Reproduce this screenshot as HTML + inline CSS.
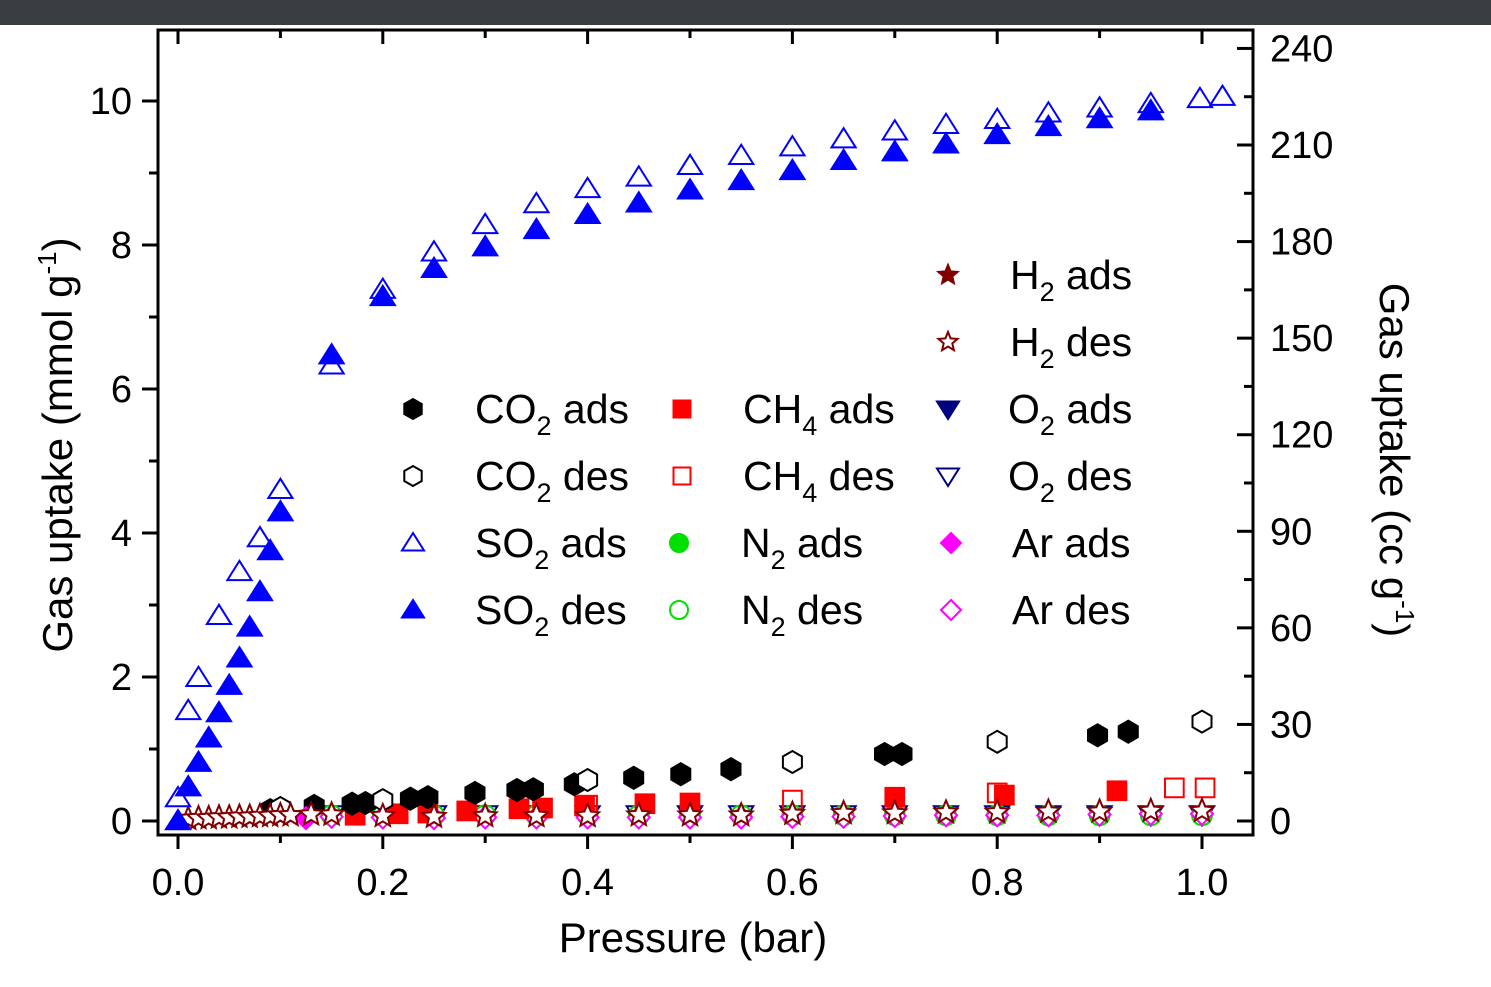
<!DOCTYPE html>
<html><head><meta charset="utf-8"><style>
body{margin:0;background:#fff;width:1491px;height:987px;overflow:hidden;font-family:"Liberation Sans",sans-serif}
</style></head><body>
<div style="position:absolute;left:0;top:0;width:1491px;height:25px;background:#3b3e41"></div>
<svg id="c" width="1491" height="987" style="position:absolute;left:0;top:0"></svg>
<script>
const so2AdsX=[0,0.01,0.02,0.04,0.06,0.08,0.1,0.15,0.2,0.25,0.3,0.35,0.4,0.45,0.5,0.55,0.6,0.65,0.7,0.75,0.8,0.85,0.9,0.95,0.998,1.02];
const so2AdsY=[0.32,1.53,1.99,2.85,3.46,3.93,4.6,6.33,7.38,7.9,8.28,8.57,8.78,8.94,9.1,9.24,9.36,9.47,9.58,9.67,9.74,9.83,9.9,9.96,10.03,10.06];
const so2DesX=[0,0.01,0.02,0.03,0.04,0.05,0.06,0.07,0.08,0.09,0.1,0.15,0.2,0.25,0.3,0.35,0.4,0.45,0.5,0.55,0.6,0.65,0.7,0.75,0.8,0.85,0.9,0.95];
const so2DesY=[0,0.47,0.81,1.15,1.5,1.88,2.26,2.69,3.18,3.75,4.29,6.47,7.28,7.67,7.97,8.21,8.42,8.58,8.76,8.89,9.03,9.17,9.29,9.4,9.53,9.64,9.75,9.86];
const co2AdsX=[0.09,0.133,0.17,0.183,0.227,0.244,0.29,0.331,0.347,0.387,0.445,0.491,0.54,0.69,0.707,0.898,0.928];
const co2AdsY=[0.15,0.21,0.24,0.25,0.31,0.33,0.39,0.43,0.44,0.51,0.6,0.65,0.72,0.93,0.93,1.19,1.24];
const co2DesX=[0.1,0.2,0.4,0.6,0.8,1.0];
const co2DesY=[0.18,0.29,0.57,0.82,1.1,1.38];
const ch4AdsX=[0.173,0.215,0.244,0.282,0.333,0.356,0.397,0.456,0.5,0.7,0.807,0.917];
const ch4AdsY=[0.08,0.1,0.11,0.14,0.17,0.18,0.21,0.24,0.25,0.33,0.36,0.42];
const ch4DesX=[0.4,0.6,0.8,0.973,1.003];
const ch4DesY=[0.22,0.29,0.39,0.46,0.46];
const lowX=[0.15,0.2,0.25,0.3,0.35,0.4,0.45,0.5,0.55,0.6,0.65,0.7,0.75,0.8,0.85,0.9,0.95,1.0];
const arDesY=[0.06,0.05,0.04,0.05,0.05,0.05,0.05,0.05,0.05,0.06,0.06,0.07,0.08,0.08,0.08,0.09,0.1,0.1];
const h2DesX=[0.01,0.02,0.03,0.04,0.05,0.06,0.07,0.08,0.09,0.1,0.11,0.13,0.15,0.2,0.25,0.3,0.35,0.4,0.45,0.5,0.55,0.6,0.65,0.7,0.75,0.8,0.85,0.9,0.95,1.0];
const h2DesY=[0.03,0.04,0.04,0.05,0.05,0.06,0.06,0.07,0.07,0.08,0.08,0.09,0.09,0.07,0.06,0.07,0.07,0.07,0.08,0.08,0.08,0.1,0.11,0.11,0.12,0.12,0.13,0.13,0.14,0.14];
const arAdsX=[0.125], arAdsY=[0.04];
const xTicks=[0.0,0.2,0.4,0.6,0.8,1.0];
const yTicks=[0,2,4,6,8,10];
const y2Ticks=[0,30,60,90,120,150,180,210,240];

const NS="http://www.w3.org/2000/svg",svg=document.getElementById('c');
const X=v=>178+v*1024, Y=v=>821-v*72, Y2=v=>821-v*3.219;
function el(t,a,p){const e=document.createElementNS(NS,t);for(const k in a)e.setAttribute(k,a[k]);(p||svg).appendChild(e);return e;}
function txt(x,y,s,size,anchor,extra){const t=el('text',Object.assign({x:x,y:y,'font-size':size,'text-anchor':anchor||'middle','font-family':'Liberation Sans, sans-serif'},extra||{}));t.innerHTML=s;return t;}
const fr=el('rect',{x:158,y:30,width:1095,height:805,fill:'none',stroke:'#000','stroke-width':3});

for(let v=0;v<=1.0001;v+=0.1){const maj=Math.abs(v*5-Math.round(v*5))<1e-6;const x=X(v);
 el('line',{x1:x,x2:x,y1:835,y2:835+(maj?14:8),stroke:'#000','stroke-width':3});
 el('line',{x1:x,x2:x,y1:30,y2:30+(maj?14:8),stroke:'#000','stroke-width':3});}
xTicks.forEach(v=>{const t=txt(X(v),895,v.toFixed(1),38);});
for(let v=0;v<=10.5;v+=1){const maj=v%2==0;const y=Y(v);el('line',{x1:158-(maj?16:9),x2:158,y1:y,y2:y,stroke:'#000','stroke-width':3});}
yTicks.forEach(v=>{const t=txt(132,Y(v)+13,String(v),38,'end');});
for(let v=0;v<=247;v+=15){const maj=v%30==0;const y=Y2(v);el('line',{x1:1253-(maj?16:9),x2:1253,y1:y,y2:y,stroke:'#000','stroke-width':3});}
y2Ticks.forEach(v=>{const t=txt(1270,Y2(v)+13,String(v),38,'start');});
let t=txt(693,952,'Pressure (bar)',42);
t=txt(0,0,'Gas uptake (mmol g<tspan dy="-16" font-size="26">-1</tspan><tspan dy="16">)</tspan>',42,'middle',{transform:'translate(72,445) rotate(-90)'});
t=txt(0,0,'Gas uptake (cc g<tspan dy="-16" font-size="26">-1</tspan><tspan dy="16">)</tspan>',42,'middle',{transform:'translate(1380,460) rotate(90)'});
function mk(type,cx,cy,fill,stroke,s){s=s||11;let e;
 if(type=='tri'){e=el('polygon',{points:`${cx},${cy-s} ${cx-s*1.1},${cy+s*0.75} ${cx+s*1.1},${cy+s*0.75}`});}
 else if(type=='itri'){e=el('polygon',{points:`${cx},${cy+s} ${cx-s*1.1},${cy-s*0.75} ${cx+s*1.1},${cy-s*0.75}`});}
 else if(type=='hex'){let p=[];for(let i=0;i<6;i++){const a=Math.PI/3*i+Math.PI/2;p.push((cx+s*Math.cos(a)).toFixed(1)+','+(cy+s*Math.sin(a)).toFixed(1));}e=el('polygon',{points:p.join(' ')});}
 else if(type=='sq'){e=el('rect',{x:cx-s*0.85,y:cy-s*0.85,width:s*1.7,height:s*1.7});}
 else if(type=='dia'){e=el('polygon',{points:`${cx},${cy-s} ${cx+s},${cy} ${cx},${cy+s} ${cx-s},${cy}`});}
 else if(type=='circ'){e=el('circle',{cx:cx,cy:cy,r:s*0.9});}
 else if(type=='star'){let p=[];for(let i=0;i<10;i++){const r=i%2?s*0.45:s;const a=-Math.PI/2+i*Math.PI/5;p.push((cx+r*Math.cos(a)).toFixed(1)+','+(cy+r*Math.sin(a)).toFixed(1));}e=el('polygon',{points:p.join(' ')});}
 e.setAttribute('fill',fill);e.setAttribute('stroke',stroke);e.setAttribute('stroke-width',2);return e;}
function series(xs,ys,type,fill,stroke,name,s){xs.forEach((x,i)=>{const e=mk(type,X(x),Y(ys[i]),fill,stroke,s);
 
 });}
series(lowX,lowX.map(()=>0.09),'itri','none','#000080','o2-des-point');
series(lowX,lowX.map(()=>0.08),'circ','none','#00dd00','n2-des-point');
series(lowX,arDesY,'dia','#fff','#ff00ff','ar-des-point');
series(ch4AdsX,ch4AdsY,'sq','#f00','#f00','ch4-ads-point');
series(ch4DesX,ch4DesY,'sq','none','#f00','ch4-des-point');
series(co2AdsX,co2AdsY,'hex','#000','#000','co2-ads-point');
series(co2DesX,co2DesY,'hex','#fff','#000','co2-des-point');
series(arAdsX,arAdsY,'dia','#ff00ff','#ff00ff','ar-ads-point');
series(h2DesX,h2DesY,'star','#fff','#800000','h2-des-point',12);
series(so2AdsX,so2AdsY,'tri','none','#0000ff','so2-ads-point');
series(so2DesX,so2DesY,'tri','#0000ff','#0000ff','so2-des-point');
const leg=[
 [948,275,'star','#800000','#800000','H<tspan dy="12" font-size="27">2</tspan><tspan dy="-12"> ads</tspan>',1010],
 [948,342,'star','#fff','#800000','H<tspan dy="12" font-size="27">2</tspan><tspan dy="-12"> des</tspan>',1010],
 [413,409,'hex','#000','#000','CO<tspan dy="12" font-size="27">2</tspan><tspan dy="-12"> ads</tspan>',475],
 [413,476,'hex','#fff','#000','CO<tspan dy="12" font-size="27">2</tspan><tspan dy="-12"> des</tspan>',475],
 [413,543,'tri','none','#0000ff','SO<tspan dy="12" font-size="27">2</tspan><tspan dy="-12"> ads</tspan>',475],
 [413,610,'tri','#0000ff','#0000ff','SO<tspan dy="12" font-size="27">2</tspan><tspan dy="-12"> des</tspan>',475],
 [682,409,'sq','#f00','#f00','CH<tspan dy="12" font-size="27">4</tspan><tspan dy="-12"> ads</tspan>',743],
 [682,476,'sq','none','#f00','CH<tspan dy="12" font-size="27">4</tspan><tspan dy="-12"> des</tspan>',743],
 [679,543,'circ','#00e000','#00e000','N<tspan dy="12" font-size="27">2</tspan><tspan dy="-12"> ads</tspan>',741],
 [679,610,'circ','none','#00e000','N<tspan dy="12" font-size="27">2</tspan><tspan dy="-12"> des</tspan>',741],
 [948,409,'itri','#000080','#000080','O<tspan dy="12" font-size="27">2</tspan><tspan dy="-12"> ads</tspan>',1008],
 [948,476,'itri','none','#000080','O<tspan dy="12" font-size="27">2</tspan><tspan dy="-12"> des</tspan>',1008],
 [951,543,'dia','#ff00ff','#ff00ff','Ar ads',1012],
 [951,610,'dia','#fff','#ff00ff','Ar des',1012]];
leg.forEach(l=>{const m=mk(l[2],l[0],l[1],l[3],l[4],10);
 const tt=txt(l[6],l[1]+14,l[5],41,'start');});
</script>
</body></html>
